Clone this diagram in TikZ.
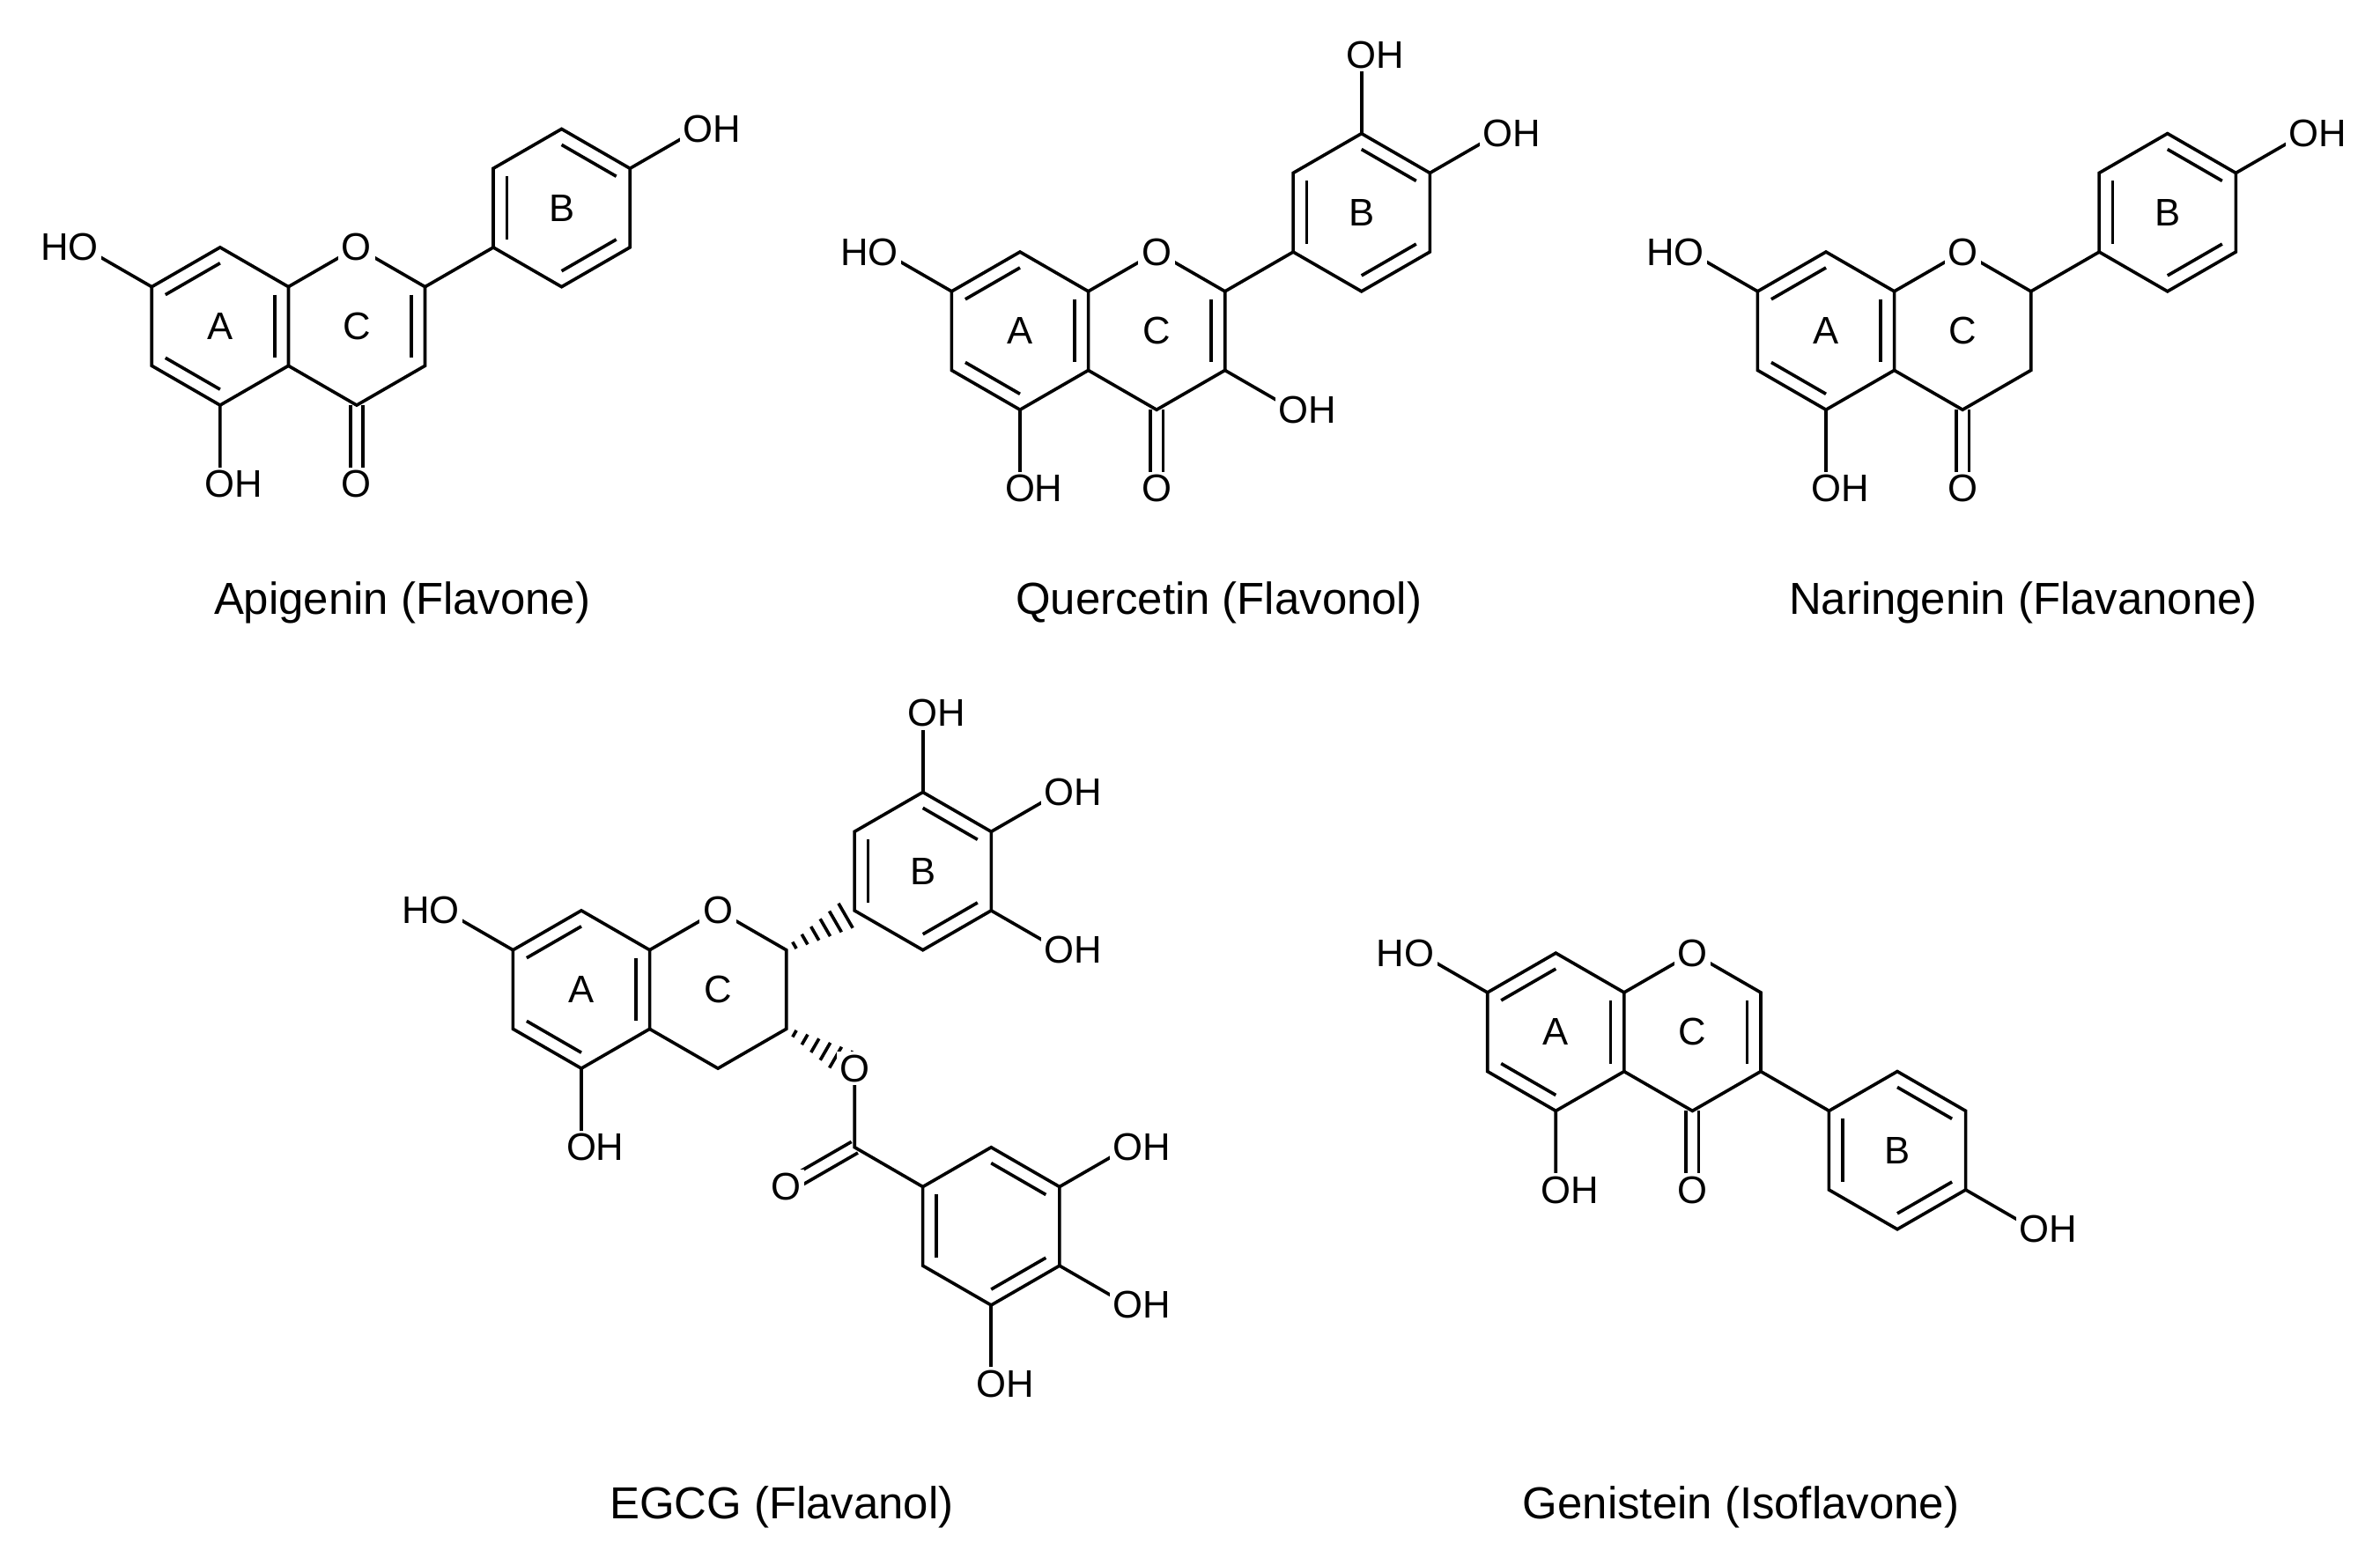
\documentclass[tikz,border=0pt]{standalone}
\usepackage{fontspec}
\setmainfont{Liberation Sans}
\usetikzlibrary{calc}
\newcommand\hexring[3]{%
  \coordinate (#1c) at (#2,-#3);
  \foreach \i/\a in {1/90,2/30,3/-30,4/-90,5/-150,6/150}
    \coordinate (#1\i) at ($(#2,-#3)+(\a:52)$);}
\newcommand\dbl[3]{\draw ($(#1)!0.2!(#3)$) -- ($(#2)!0.2!(#3)$);}
\newcommand\cdbl[2]{%
  \draw ($(#1)!1.2pt!90:(#2)$) -- ($(#2)!1.2pt!-90:(#1)$);
  \draw ($(#1)!1.2pt!-90:(#2)$) -- ($(#2)!1.2pt!90:(#1)$);}
\newcommand\hashb[2]{%
  \foreach \t in {0.12,0.27,0.42,0.57,0.72,0.87}{
    \pgfmathsetmacro\w{0.4+\t*2.6}
    \coordinate (hp) at ($(#1)!\t!(#2)$);
    \draw ($(hp)!\w pt!90:(#2)$) -- ($(hp)!\w pt!-90:(#2)$);}}
% flavonoid core: prefix, A-centre x, y
\newcommand\core[3]{%
  \hexring{#1A}{#2}{#3}
  \pgfmathsetmacro\cx{#2+90}
  \hexring{#1C}{\cx}{#3}
  \draw (#1A1)--(#1A2)--(#1A3)--(#1A4)--(#1A5)--(#1A6)--cycle;
  \draw (#1C6)--(#1C1)--(#1C2)--(#1C3)--(#1C4)--(#1C5);
  \dbl{#1A6}{#1A1}{#1Ac}\dbl{#1A5}{#1A4}{#1Ac}\dbl{#1A2}{#1A3}{#1Ac}
  \coordinate (#1ho7) at ($(#1A6)+(150:52)$);
  \coordinate (#1ho5) at ($(#1A4)+(-90:52)$);
  \draw (#1A6)--(#1ho7) (#1A4)--(#1ho5);
  \node[atom] at (#1C1) {O};
  \node[atom] at (#1ho7) {\llap{H}O};
  \node[atom] at (#1ho5) {O\rlap{H}};
  \node[ringlbl] at (#1Ac) {A};
  \node[ringlbl] at (#1Cc) {C};}
\newcommand\carbonyl[1]{%
  \coordinate (#1co) at ($(#1C4)+(-90:52)$);
  \cdbl{#1C4}{#1co}
  \node[atom] at (#1co) {O};}
\newcommand\benz[4]{% prefix, cx, cy, label
  \hexring{#1}{#2}{#3}
  \draw (#11)--(#12)--(#13)--(#14)--(#15)--(#16)--cycle;
  \dbl{#16}{#15}{#1c}\dbl{#11}{#12}{#1c}\dbl{#13}{#14}{#1c}
  \node[ringlbl] at (#1c) {#4};}
\newcommand\oh[3]{% vertex, angle, text
  \coordinate (tmpoh) at ($(#1)+(#2:52)$);
  \draw (#1)--(tmpoh);
  \node[atom] at (tmpoh) {#3};}
\begin{document}
\begin{tikzpicture}[x=0.01cm,y=0.01cm,line width=0.6pt,
  atom/.style={fill=white,inner sep=0.6pt,font=\fontsize{7.2}{8}\selectfont},
  ringlbl/.style={inner sep=0pt,font=\fontsize{7.2}{8}\selectfont},
  captxt/.style={font=\fontsize{8.4}{10}\selectfont}]
\useasboundingbox (0,0) rectangle (1568,-1031);
% Apigenin
\core{ap}{145}{215}\carbonyl{ap}
\draw (apC2)--($(apC2)+(30:52)$);
\benz{apB}{370}{137}{B}
\dbl{apC2}{apC3}{apCc}
\oh{apB2}{30}{O\rlap{H}}
\node[captxt] (capap) at (265,-397) {Apigenin (Flavone)};
% Quercetin
\core{qu}{672}{218}\carbonyl{qu}
\draw (quC2)--($(quC2)+(30:52)$);
\benz{quB}{897}{140}{B}
\dbl{quC2}{quC3}{quCc}
\oh{quB1}{90}{O\rlap{H}}
\oh{quB2}{30}{O\rlap{H}}
\oh{quC3}{-30}{O\rlap{H}}
\node[captxt] (capqu) at (803,-397) {Quercetin (Flavonol)};
% Naringenin
\core{na}{1203}{218}\carbonyl{na}
\draw (naC2)--($(naC2)+(30:52)$);
\benz{naB}{1428}{140}{B}
\oh{naB2}{30}{O\rlap{H}}
\node[captxt] (capna) at (1333,-397) {Naringenin (Flavanone)};
% EGCG
\core{eg}{383}{652}
\benz{egB}{608}{574}{B}
\hashb{egC2}{egB5}
\oh{egB1}{90}{O\rlap{H}}
\oh{egB2}{30}{O\rlap{H}}
\oh{egB3}{-30}{O\rlap{H}}
\coordinate (egOe) at ($(egC3)+(-30:52)$);
\hashb{egC3}{egOe}
\coordinate (egCc) at ($(egOe)+(-90:52)$);
\coordinate (egCo) at ($(egCc)+(210:52)$);
\benz{egG}{653}{808}{}
\draw (egOe)--(egCc)--(egG6);
\cdbl{egCc}{egCo}
\node[atom] at (egOe) {O};
\node[atom] at (egCo) {O};
\oh{egG2}{30}{O\rlap{H}}
\oh{egG3}{-30}{O\rlap{H}}
\oh{egG4}{-90}{O\rlap{H}}
\node[captxt] (capeg) at (515,-993) {EGCG (Flavanol)};
% Genistein
\core{ge}{1025}{680}\carbonyl{ge}
\dbl{geC2}{geC3}{geCc}
\draw (geC3)--($(geC3)+(-30:52)$);
\benz{geB}{1250}{758}{B}
\oh{geB3}{-30}{O\rlap{H}}
\node[captxt] (capge) at (1147,-993) {Genistein (Isoflavone)};
\end{tikzpicture}
\end{document}
